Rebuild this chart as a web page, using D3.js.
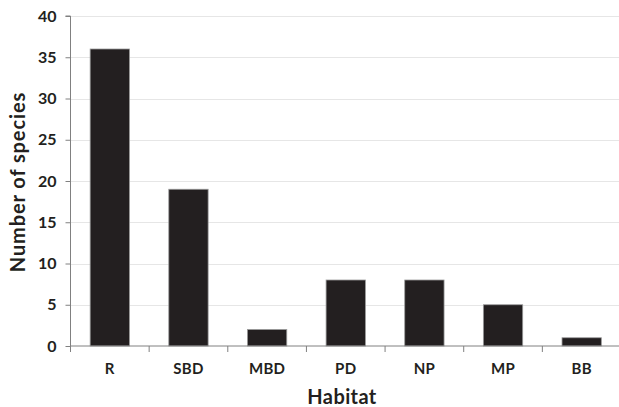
<!DOCTYPE html>
<html><head><meta charset="utf-8">
<script src="https://cdn.jsdelivr.net/npm/d3@7"></script>
<style>body{margin:0;background:#fff}svg{display:block}</style>
</head><body>
<script>
const categories = ["R","SBD","MBD","PD","NP","MP","BB"];
const values = [36,19,2,8,8,5,1];
const yTicks = [0,5,10,15,20,25,30,35,40];

const W = 619, H = 407;
const m = {left:70.5, right:0, top:16, bottom:61};
const svg = d3.select("body").append("svg").attr("width",W).attr("height",H);
const font = "Lato, 'DejaVu Sans', sans-serif";

const x = d3.scaleBand().domain(categories).range([m.left, 621]).paddingInner(0.5).paddingOuter(0.25);
const y = d3.scaleLinear().domain([0,40]).range([H-m.bottom, m.top]);

// gridlines
svg.append("g").selectAll("line").data(yTicks.filter(d=>d>0)).join("line")
  .attr("x1",m.left).attr("x2",W).attr("y1",d=>Math.round(y(d))+0.5).attr("y2",d=>Math.round(y(d))+0.5)
  .attr("stroke","#e6e6e6").attr("stroke-width",1);

// bars
svg.append("g").selectAll("rect").data(values).join("rect")
  .attr("x",(d,i)=>x(categories[i])).attr("width",x.bandwidth())
  .attr("y",d=>y(d)).attr("height",d=>y(0)-y(d))
  .attr("fill","#231f20").attr("stroke","#9a9a9a").attr("stroke-width",0.8);

// y axis
const yAxis = d3.axisLeft(y).tickValues(yTicks).tickSize(5).tickPadding(9);
const gy = svg.append("g").attr("transform",`translate(${m.left},0)`).call(yAxis);
gy.select(".domain").attr("stroke","#808080").attr("d",`M-5,${y(40)}H0V${y(0)}`);
gy.selectAll(".tick line").attr("stroke","#808080");
gy.selectAll("text").attr("font-family",font).attr("font-weight","bold").attr("font-size","16px").attr("fill","#231f20");

// x axis line and boundary ticks
const x0 = y(0);
svg.append("line").attr("x1",m.left).attr("x2",W).attr("y1",x0).attr("y2",x0).attr("stroke","#808080");
const bounds = categories.map(c=>x(c)-x.step()*x.paddingInner()/2);
svg.append("g").selectAll("line").data(bounds).join("line")
  .attr("x1",d=>d).attr("x2",d=>d).attr("y1",x0).attr("y2",x0+6).attr("stroke","#808080");
svg.append("g").selectAll("text").data(categories).join("text")
  .attr("x",d=>x(d)+x.bandwidth()/2).attr("y",x0+28).attr("text-anchor","middle")
  .attr("font-family",font).attr("font-weight","bold").attr("font-size","15px").attr("fill","#231f20")
  .attr("letter-spacing","0.3px")
  .text(d=>d);

// titles
svg.append("text").attr("x",342).attr("y",404).attr("text-anchor","middle")
  .attr("font-family",font).attr("font-weight","bold").attr("font-size","20px").attr("fill","#231f20")
  .attr("letter-spacing","0.4px").text("Habitat");
svg.append("text").attr("transform",`translate(25,182) rotate(-90)`).attr("text-anchor","middle")
  .attr("font-family",font).attr("font-weight","bold").attr("font-size","20px").attr("fill","#231f20")
  .attr("letter-spacing","0.9px").text("Number of species");
</script>
</body></html>
